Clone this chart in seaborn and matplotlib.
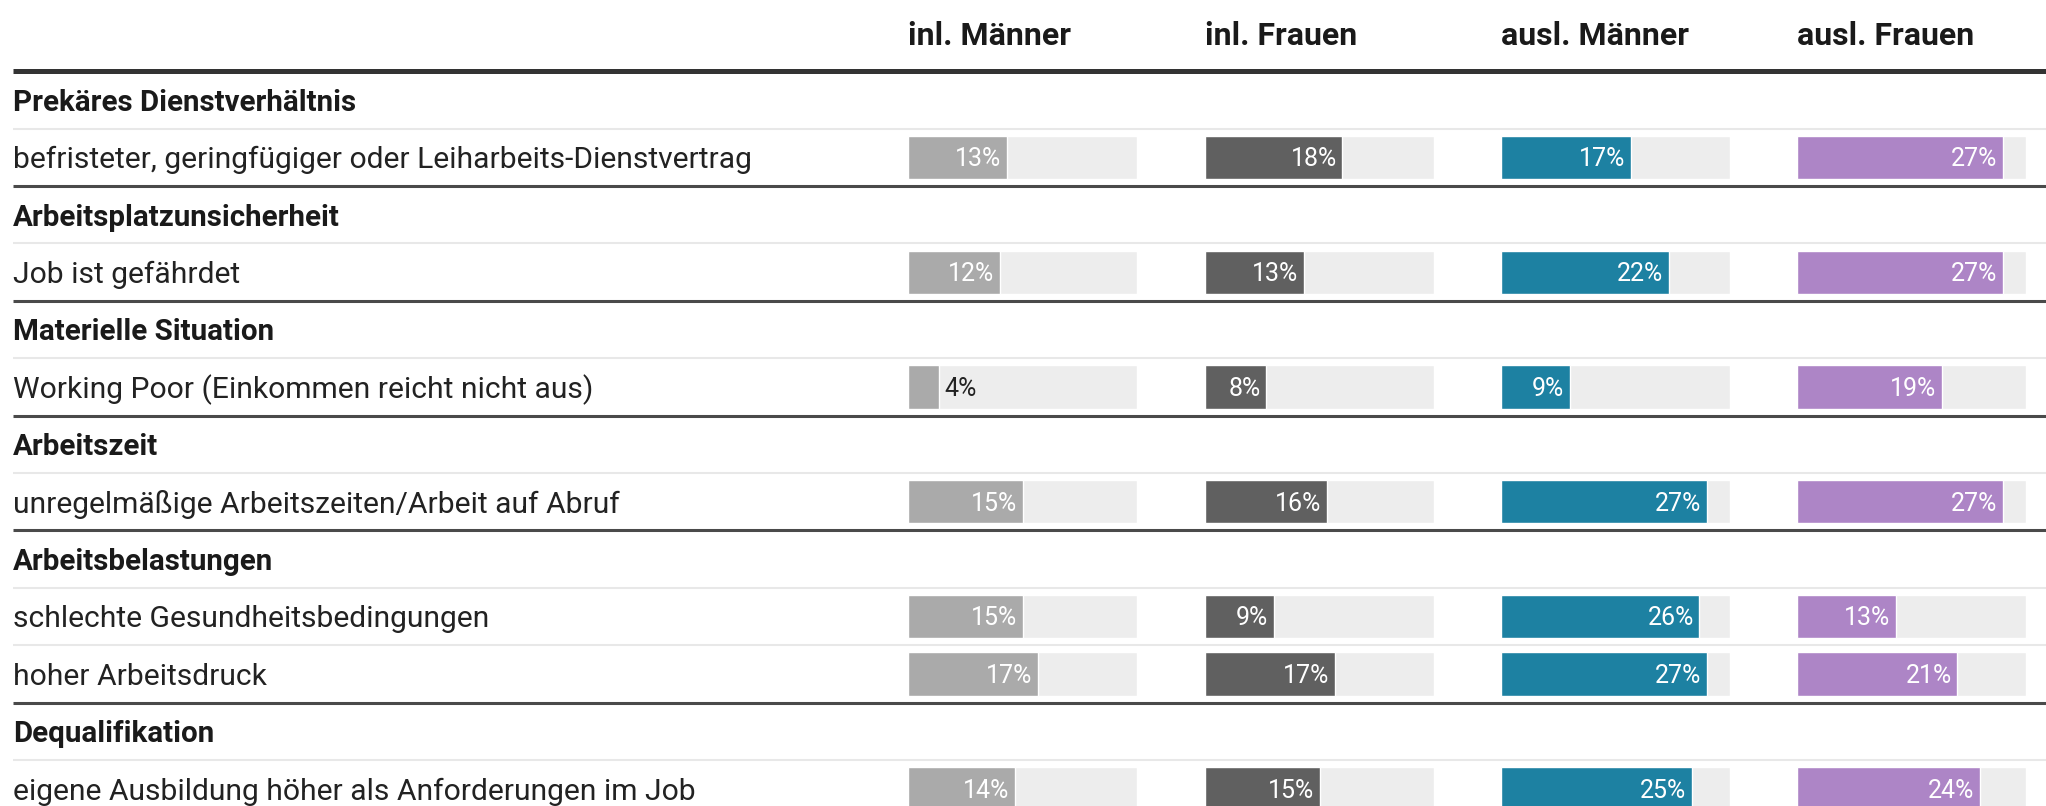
import pandas as pd
import seaborn as sns
import matplotlib
matplotlib.use('Agg')
import matplotlib.pyplot as plt

# Data
groups = ['Prekäres Dienstverhältnis', 'Arbeitsplatzunsicherheit', 'Materielle Situation',
          'Arbeitszeit', 'Arbeitsbelastungen', 'Dequalifikation']
items = ['befristeter, geringfügiger oder Leiharbeits-Dienstvertrag',
         'Job ist gefährdet',
         'Working Poor (Einkommen reicht nicht aus)',
         'unregelmäßige Arbeitszeiten/Arbeit auf Abruf',
         'schlechte Gesundheitsbedingungen',
         'hoher Arbeitsdruck',
         'eigene Ausbildung höher als Anforderungen im Job']
item_group = [0, 1, 2, 3, 4, 4, 5]

columns = ['inl. Männer', 'inl. Frauen', 'ausl. Männer', 'ausl. Frauen']
inl_maenner = [13, 12, 4, 15, 15, 17, 14]
inl_frauen = [18, 13, 8, 16, 9, 17, 15]
ausl_maenner = [17, 22, 9, 27, 26, 27, 25]
ausl_frauen = [27, 27, 19, 27, 13, 21, 24]
colors = ['#aaaaaa', '#606060', '#1d81a2', '#ad85c6']
scale_max = 30

# Build row table: group headings followed by their items
records = []
for g, name in enumerate(groups):
    records.append({'row': name, 'kind': 'group'})
    for k, it in enumerate(items):
        if item_group[k] == g:
            records.append({'row': it, 'kind': 'item',
                            'inl. Männer': inl_maenner[k], 'inl. Frauen': inl_frauen[k],
                            'ausl. Männer': ausl_maenner[k], 'ausl. Frauen': ausl_frauen[k],
                            'max': scale_max})
df = pd.DataFrame(records)
rows = list(df['row'])

sns.set_theme(style='white')
plt.rcParams['font.family'] = ['Roboto', 'DejaVu Sans']

W, H = 2046, 806
fig = plt.figure(figsize=(W / 100, H / 100), dpi=100)

# row-unit vertical scale shared by all axes
y_top, y_bottom = -1.742, 12.30

ax = fig.add_axes([0, 0, 1, 1])
ax.set_xlim(0, W)
ax.set_ylim(y_bottom, y_top)
ax.axis('off')

px = 0.72  # px -> pt at dpi 100
text_dy = 0.05

# header
col_left = [908, 1205, 1501, 1797]
col_w = 229
for c, x0 in zip(columns, col_left):
    ax.text(x0, -1.12, c, fontsize=32 * px, fontweight='bold', color='#1a1a1a',
            ha='left', va='center')
ax.plot([13, W], [-0.5, -0.5], color='#333333', lw=3.6, solid_capstyle='butt')

# row texts and separators
for i, r in df.iterrows():
    if r['kind'] == 'group':
        ax.text(13, i + text_dy, r['row'], fontsize=29.5 * px, fontweight='bold',
                color='#1a1a1a', ha='left', va='center')
    else:
        ax.text(13, i + text_dy, r['row'], fontsize=30 * px, color='#222222',
                ha='left', va='center')
    if i < len(df) - 1:
        if df.loc[i + 1, 'kind'] == 'group':
            ax.plot([13, W], [i + 0.5, i + 0.5], color='#4a4a4a', lw=2.2, solid_capstyle='butt')
        else:
            ax.plot([13, W], [i + 0.5, i + 0.5], color='#e8e8e8', lw=1.5, solid_capstyle='butt')

# bar columns
for c, x0, col in zip(columns, col_left, colors):
    bax = fig.add_axes([x0 / W, 0, col_w / W, 1])
    sns.barplot(data=df, y='row', x='max', order=rows, orient='h', color='#ededed',
                width=0.75, errorbar=None, saturation=1, ax=bax)
    sns.barplot(data=df, y='row', x=c, order=rows, orient='h', color=col,
                width=0.75, errorbar=None, saturation=1, ax=bax)
    bax.set_xlim(0, scale_max)
    bax.set_ylim(y_bottom, y_top)
    bax.axis('off')
    for i, r in df.iterrows():
        if r['kind'] != 'item':
            continue
        v = r[c]
        if v >= 6:
            bax.annotate(f'{v:.0f}%', (v, i + 0.03), xytext=(-4, 0), textcoords='offset points',
                         ha='right', va='center', color='white', fontsize=25 * px)
        else:
            bax.annotate(f'{v:.0f}%', (v, i + 0.03), xytext=(4, 0), textcoords='offset points',
                         ha='left', va='center', color='#222222', fontsize=25 * px)

plt.savefig('out.png', dpi=100)
plt.close()
